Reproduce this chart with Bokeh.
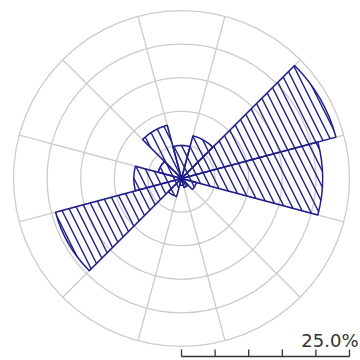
import numpy as np
from bokeh.plotting import figure
from bokeh.models import Range1d
from bokeh.embed import file_html
from bokeh.resources import INLINE
from bokeh.core.properties import value

# ---- data ----
directions = [0, 30, 60, 90, 120, 150, 180, 210, 240, 270, 300, 330]   # sector centres (compass deg)
frequency = [4.9, 6.6, 23.8, 21.0, 2.3, 1.4, 1.0, 2.8, 19.4, 7.1, 3.6, 8.2]  # percent
ring_values = [5, 10, 15, 20, 25]
sector_width = 30
scale_ticks = [0, 5, 10, 15, 20, 25]
scale_label = "25.0%"

W = H = 360
px_per_unit = 6.72
cx_px, cy_px = 181, 178   # centre in figure pixels

x0 = -cx_px / px_per_unit
x1 = (W - cx_px) / px_per_unit
y1 = cy_px / px_per_unit
y0 = -(H - cy_px) / px_per_unit

p = figure(width=W, height=H, output_backend="svg", toolbar_location=None,
           x_range=Range1d(x0, x1), y_range=Range1d(y0, y1),
           min_border=0, outline_line_color=None)
p.axis.visible = False
p.grid.visible = False
p.background_fill_color = "white"
p.border_fill_color = "white"

grid_color = "#cccccc"
navy = "#1e1e8c"

# rings
p.circle(x=[0] * len(ring_values), y=[0] * len(ring_values), radius=ring_values,
         fill_color=None, line_color=grid_color, line_width=1.3)

# spokes at sector boundaries
rmax = max(ring_values)
bounds = [d + sector_width / 2 for d in directions]
math_b = np.radians(90 - np.array(bounds))
p.segment(x0=[0] * len(bounds), y0=[0] * len(bounds),
          x1=list(rmax * np.cos(math_b)), y1=list(rmax * np.sin(math_b)),
          line_color=grid_color, line_width=1.3)

# wedges
d = np.array(directions, dtype=float)
start = np.radians(90 - (d + sector_width / 2))
end = np.radians(90 - (d - sector_width / 2))
p.wedge(x=[0] * len(d), y=[0] * len(d), radius=frequency,
        start_angle=list(start), end_angle=list(end), direction="anticlock",
        fill_color=None, fill_alpha=0,
        hatch_pattern="left_diagonal_line", hatch_color=navy, hatch_scale=16,
        hatch_weight=1.4,
        line_color=navy, line_width=1.5)

# scale bar
bar_y = (cy_px - 356) / px_per_unit
tick_top = (cy_px - 349) / px_per_unit
p.segment(x0=[scale_ticks[0]], y0=[bar_y], x1=[scale_ticks[-1]], y1=[bar_y],
          line_color="#333333", line_width=1.5)
p.segment(x0=scale_ticks, y0=[bar_y] * len(scale_ticks), x1=scale_ticks,
          y1=[tick_top] * len(scale_ticks), line_color="#333333", line_width=1.3)
p.text(x=[(358 - cx_px) / px_per_unit], y=[(cy_px - 340) / px_per_unit], text=[scale_label],
       text_align="right", text_baseline="alphabetic", text_font=value("DejaVu Sans"),
       text_font_size="18px", text_color="#333333")

open("out.html", "w").write(file_html(p, INLINE))
